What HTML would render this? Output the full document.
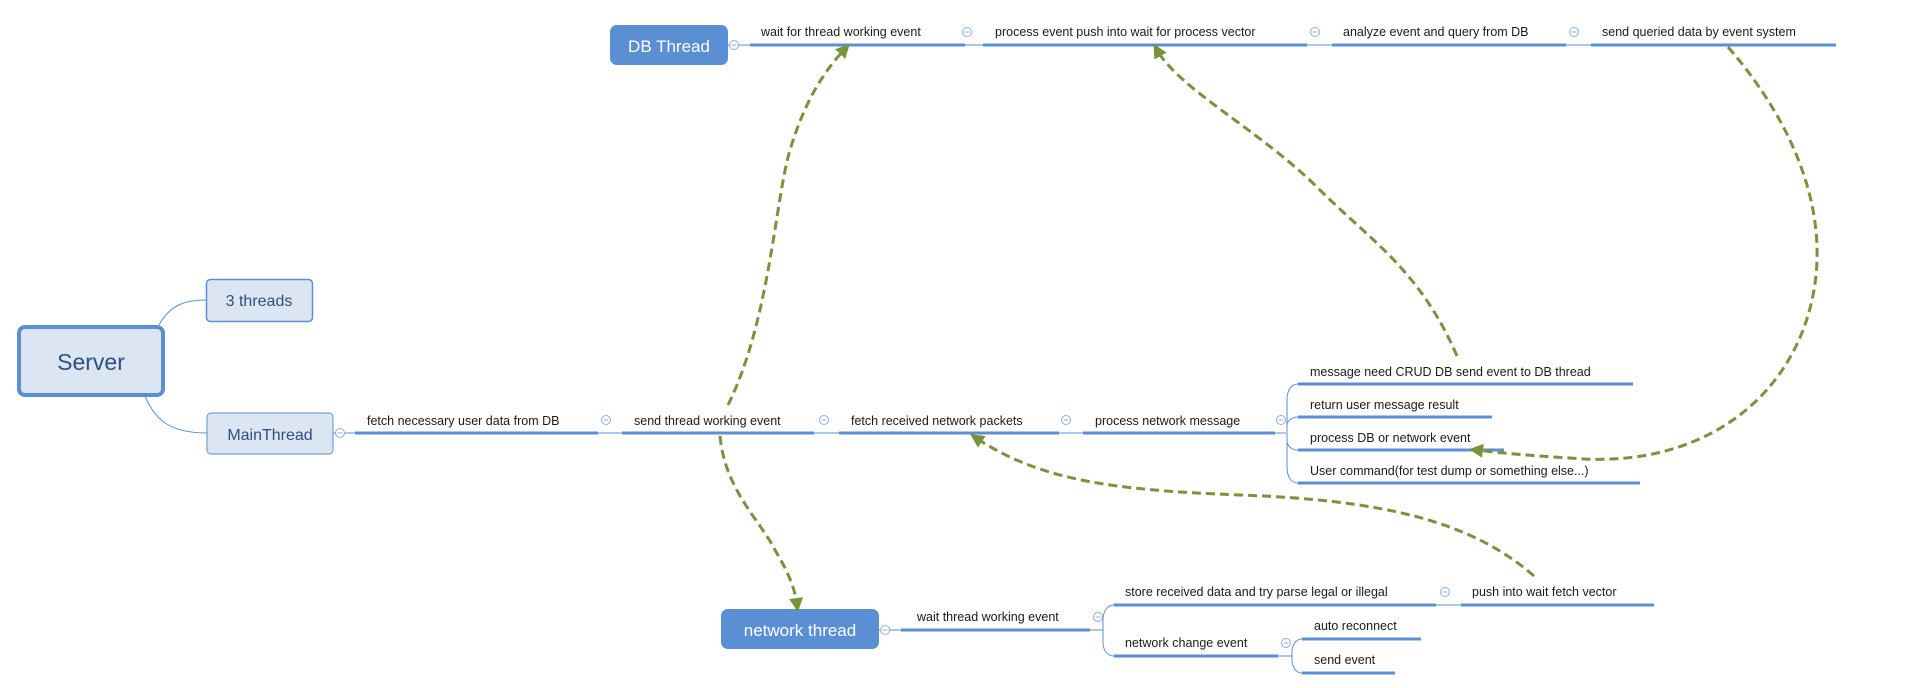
<!DOCTYPE html>
<html><head><meta charset="utf-8"><style>
html,body{margin:0;padding:0;background:#fff;}
svg{display:block;}
text{font-family:"Liberation Sans",sans-serif;}
.t{font-size:12.5px;fill:#1a1a1a;}
.l{stroke:#5b8fd4;stroke-width:3;fill:none;}
.th{stroke:#5b8fd4;stroke-width:1;fill:none;}
.c{fill:#fff;stroke:#8aaee0;stroke-width:1;}
.g{stroke:#77933c;stroke-width:3;fill:none;stroke-dasharray:9 5;}
</style></head><body>
<svg width="1927" height="688" viewBox="0 0 1927 688" xmlns="http://www.w3.org/2000/svg">
<defs>
<marker id="ah" markerWidth="14" markerHeight="14" refX="7" refY="7" orient="auto" markerUnits="userSpaceOnUse" viewBox="0 0 14 14">
<path d="M0,0 L14,7 L0,14 z" fill="#77933c"/>
</marker>
<g id="cc"><circle r="4.5" class="c"/><line x1="-2.5" y1="0" x2="2.5" y2="0" stroke="#8aaee0" stroke-width="1"/></g>
</defs>

<!-- Server & children -->
<path class="th" d="M159,325 C170,305 185,300 206,300"/>
<path class="th" d="M145,396 C155,420 170,433 207,433"/>
<rect x="19" y="327" width="144" height="68" rx="6" fill="#dce6f2" stroke="#5b8fd4" stroke-width="4"/>
<text x="91" y="370" text-anchor="middle" font-size="23" fill="#2f4f7f">Server</text>
<rect x="206.5" y="279.5" width="106" height="42" rx="4" fill="#dce6f2" stroke="#5b8fd4" stroke-width="1.5"/>
<text x="259" y="306" text-anchor="middle" font-size="16" fill="#2f4f7f">3 threads</text>
<rect x="207" y="413" width="126" height="41" rx="4" fill="#dce6f2" stroke="#5b8fd4" stroke-width="1"/>
<text x="270" y="440" text-anchor="middle" font-size="16" fill="#2f4f7f">MainThread</text>

<!-- Main line -->
<line class="th" x1="333" y1="433" x2="355" y2="433"/>
<use href="#cc" x="340" y="433"/>
<line class="l" x1="355" y1="433" x2="598" y2="433"/>
<line class="th" x1="598" y1="433" x2="622" y2="433"/>
<line class="l" x1="622" y1="433" x2="814" y2="433"/>
<line class="th" x1="814" y1="433" x2="839" y2="433"/>
<line class="l" x1="839" y1="433" x2="1059" y2="433"/>
<line class="th" x1="1059" y1="433" x2="1083" y2="433"/>
<line class="l" x1="1083" y1="433" x2="1275" y2="433"/>
<line class="th" x1="1275" y1="433" x2="1286" y2="433"/>
<text class="t" x="367" y="425">fetch necessary user data from DB</text>
<use href="#cc" x="606" y="420"/>
<text class="t" x="634" y="425">send thread working event</text>
<use href="#cc" x="824" y="420"/>
<text class="t" x="851" y="425">fetch received network packets</text>
<use href="#cc" x="1066" y="420"/>
<text class="t" x="1095" y="425">process network message</text>
<use href="#cc" x="1281" y="420"/>

<!-- process network message children -->
<path class="th" d="M1298,384 C1290,384 1287,392 1287,400 L1287,467 C1287,475 1290,483 1298,483"/>
<path class="th" d="M1287,425 C1287,421 1292,417 1298,417"/>
<path class="th" d="M1287,441 C1287,446 1292,450 1298,450"/>
<line class="l" x1="1298" y1="384" x2="1633" y2="384"/>
<line class="l" x1="1298" y1="417" x2="1492" y2="417"/>
<line class="l" x1="1298" y1="450" x2="1504" y2="450"/>
<line class="l" x1="1298" y1="483" x2="1640" y2="483"/>
<text class="t" x="1310" y="376">message need CRUD DB send event to DB thread</text>
<text class="t" x="1310" y="409">return user message result</text>
<text class="t" x="1310" y="442">process DB or network event</text>
<text class="t" x="1310" y="475">User command(for test dump or something else...)</text>

<!-- DB Thread -->
<rect x="610" y="25" width="118" height="40" rx="7" fill="#5b8fd4"/>
<text x="669" y="52" text-anchor="middle" font-size="17" fill="#fff">DB Thread</text>
<line class="th" x1="728" y1="45" x2="750" y2="45"/>
<use href="#cc" x="734" y="45"/>
<line class="l" x1="750" y1="45" x2="965" y2="45"/>
<line class="th" x1="965" y1="45" x2="983" y2="45"/>
<line class="l" x1="983" y1="45" x2="1307" y2="45"/>
<line class="th" x1="1307" y1="45" x2="1332" y2="45"/>
<line class="l" x1="1332" y1="45" x2="1566" y2="45"/>
<line class="th" x1="1566" y1="45" x2="1591" y2="45"/>
<line class="l" x1="1591" y1="45" x2="1836" y2="45"/>
<text class="t" x="761" y="36">wait for thread working event</text>
<use href="#cc" x="967" y="32"/>
<text class="t" x="995" y="36">process event push into wait for process vector</text>
<use href="#cc" x="1315" y="32"/>
<text class="t" x="1343" y="36">analyze event and query from DB</text>
<use href="#cc" x="1574" y="32"/>
<text class="t" x="1602" y="36">send queried data by event system</text>

<!-- network thread -->
<rect x="721" y="609" width="158" height="40" rx="7" fill="#5b8fd4"/>
<text x="800" y="636" text-anchor="middle" font-size="17" fill="#fff">network thread</text>
<line class="th" x1="879" y1="630" x2="901" y2="630"/>
<use href="#cc" x="885" y="630"/>
<line class="l" x1="901" y1="630" x2="1090" y2="630"/>
<line class="th" x1="1090" y1="630" x2="1103" y2="630"/>
<text class="t" x="917" y="621">wait thread working event</text>
<use href="#cc" x="1098" y="617"/>
<path class="th" d="M1114,605 C1107,605 1103,612 1103,620 L1103,642 C1103,650 1107,656 1114,656"/>
<line class="l" x1="1114" y1="605" x2="1436" y2="605"/>
<line class="th" x1="1436" y1="605" x2="1461" y2="605"/>
<line class="l" x1="1461" y1="605" x2="1654" y2="605"/>
<text class="t" x="1125" y="596">store received data and try parse legal or illegal</text>
<use href="#cc" x="1445" y="592"/>
<text class="t" x="1472" y="596">push into wait fetch vector</text>
<line class="l" x1="1114" y1="656" x2="1278" y2="656"/>
<line class="th" x1="1278" y1="656" x2="1292" y2="656"/>
<text class="t" x="1125" y="647">network change event</text>
<use href="#cc" x="1286" y="643"/>
<path class="th" d="M1302,639 C1296,639 1292,645 1292,652 L1292,660 C1292,667 1296,673 1302,673"/>
<line class="l" x1="1302" y1="639" x2="1421" y2="639"/>
<line class="l" x1="1302" y1="673" x2="1395" y2="673"/>
<text class="t" x="1314" y="630">auto reconnect</text>
<text class="t" x="1314" y="664">send event</text>

<!-- green dashed relations -->
<path class="g" marker-end="url(#ah)" d="M728,405 C770,320 775,200 790,150 C805,100 825,70 845,49"/>
<path class="g" marker-end="url(#ah)" d="M720,436 C725,490 760,520 775,550 C790,575 795,590 797,605"/>
<path class="g" marker-end="url(#ah)" d="M1457,356 C1420,270 1370,240 1320,190 C1260,130 1180,90 1157,50"/>
<path class="g" marker-end="url(#ah)" d="M1728,47 C1800,130 1830,220 1812,300 C1790,400 1700,470 1570,458 C1520,455 1492,452 1476,450"/>
<path class="g" marker-end="url(#ah)" d="M1534,576 C1470,520 1380,500 1240,495 C1110,490 1040,480 976,438"/>
</svg>
</body></html>
